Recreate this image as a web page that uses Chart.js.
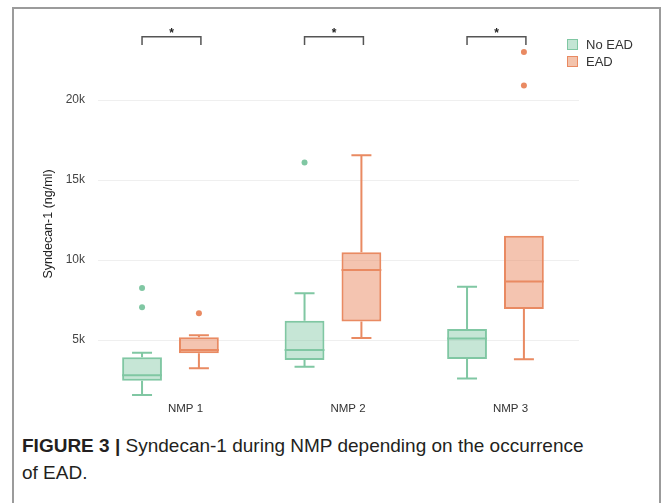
<!DOCTYPE html>
<html>
<head>
<meta charset="utf-8">
<script src="https://cdn.jsdelivr.net/npm/chart.js@4"></script>
<style>
  html, body { margin: 0; padding: 0; background: #fff; }
  body { width: 663px; height: 503px; position: relative; overflow: hidden; font-family: "Liberation Sans", Arial, sans-serif; }
  #frame { position: absolute; left: 12px; top: 7px; width: 649px; height: 510px; border: 2px solid #9b9b9b; box-sizing: border-box; }
  #wrap { position: absolute; left: 0; top: 0; width: 663px; height: 430px; }
  .legend { position: absolute; left: 567px; font-size: 13px; color: #333; }
  .legend span { display: inline-block; width: 9px; height: 9px; border: 1.5px solid; vertical-align: -1px; margin-right: 8px; }
  #caption { position: absolute; left: 22px; top: 432px; width: 575px; font-size: 19px; line-height: 27px; color: #231f20; }
</style>
</head>
<body>
<div id="frame"></div>
<div id="wrap"><canvas id="chart" width="663" height="430"></canvas></div>
<div class="legend" style="top: 37px;"><span style="border-color:#80c7a3; background:#c3e5d4;"></span>No EAD</div>
<div class="legend" style="top: 54px;"><span style="border-color:#e98a62; background:#f3c3ac;"></span>EAD</div>
<div id="caption"><b>FIGURE 3 |</b> Syndecan-1 during NMP depending on the occurrence of EAD.</div>
<script>
(() => {
    const categories = ['NMP 1', 'NMP 2', 'NMP 3'];
    // [min whisker, q1, median, q3, max whisker]
    const noEadStats = [
        [1560, 2460, 2790, 3920, 4200],
        [3330, 3750, 4375, 6210, 7920],
        [2600, 3810, 5100, 5690, 8330]
    ];
    const eadStats = [
        [3230, 4170, 4375, 5170, 5290],
        [5125, 6150, 9375, 10480, 16540],
        [3790, 6940, 8650, 11520, 11520]
    ];
    const noEadOutliers = [[7040, 8250], [16100], []];
    const eadOutliers = [[6670], [], [20900, 23000]];
    const significance = ['*', '*', '*'];
    const yTicks = [5000, 10000, 15000, 20000];

    const green = '#80c7a3', greenFill = 'rgba(128,199,163,0.45)';
    const orange = '#e98a62', orangeFill = 'rgba(233,138,98,0.5)';

    const groups = [
        { label: 'No EAD', stats: noEadStats, outliers: noEadOutliers, color: green, fill: greenFill },
        { label: 'EAD', stats: eadStats, outliers: eadOutliers, color: orange, fill: orangeFill }
    ];

    // whiskers, medians, outliers and brackets drawn from the same scales as the boxes
    const boxExtras = {
        id: 'boxExtras',
        afterDatasetsDraw(chart) {
            const ctx = chart.ctx;
            const y = chart.scales.y;
            ctx.save();
            groups.forEach((g, di) => {
                const meta = chart.getDatasetMeta(di);
                meta.data.forEach((bar, i) => {
                    const [lo, q1, med, q3, hi] = g.stats[i];
                    const x = bar.x, half = bar.width / 2, cap = 10;
                    ctx.strokeStyle = g.color;
                    ctx.lineWidth = 2;
                    ctx.beginPath();
                    ctx.moveTo(x - half, y.getPixelForValue(med));
                    ctx.lineTo(x + half, y.getPixelForValue(med));
                    if (hi > q3) {
                        ctx.moveTo(x, y.getPixelForValue(q3));
                        ctx.lineTo(x, y.getPixelForValue(hi));
                        ctx.moveTo(x - cap, y.getPixelForValue(hi));
                        ctx.lineTo(x + cap, y.getPixelForValue(hi));
                    }
                    if (lo < q1) {
                        ctx.moveTo(x, y.getPixelForValue(q1));
                        ctx.lineTo(x, y.getPixelForValue(lo));
                        ctx.moveTo(x - cap, y.getPixelForValue(lo));
                        ctx.lineTo(x + cap, y.getPixelForValue(lo));
                    }
                    ctx.stroke();
                    ctx.fillStyle = g.color;
                    g.outliers[i].forEach(v => {
                        ctx.beginPath();
                        ctx.arc(x, y.getPixelForValue(v), 3, 0, Math.PI * 2);
                        ctx.fill();
                    });
                });
            });
            // significance brackets
            const m0 = chart.getDatasetMeta(0), m1 = chart.getDatasetMeta(1);
            const top = y.getPixelForValue(23960), foot = y.getPixelForValue(23440);
            ctx.strokeStyle = '#555';
            ctx.lineWidth = 1.5;
            ctx.fillStyle = '#222';
            ctx.font = 'bold 12px "Liberation Sans"';
            ctx.textAlign = 'center';
            ctx.textBaseline = 'middle';
            significance.forEach((s, i) => {
                const x1 = m0.data[i].x, x2 = m1.data[i].x + 2;
                ctx.beginPath();
                ctx.moveTo(x1, foot);
                ctx.lineTo(x1, top);
                ctx.lineTo(x2, top);
                ctx.lineTo(x2, foot);
                ctx.stroke();
                ctx.fillText(s, (x1 + x2) / 2, top - 3);
            });
            ctx.restore();
        }
    };

    new Chart(document.getElementById('chart').getContext('2d'), {
        type: 'bar',
        data: {
            datasets: groups.map(g => ({
                label: g.label,
                data: g.stats.map((s, i) => ({ x: i + 1, y: [s[1], s[3]] })),
                backgroundColor: g.fill,
                borderColor: g.color,
                borderWidth: 2,
                borderSkipped: false,
                categoryPercentage: 0.7,
                barPercentage: 0.7
            }))
        },
        options: {
            responsive: false,
            animation: false,
            layout: { padding: { top: 48, right: 84, bottom: 0, left: 0 } },
            scales: {
                x: {
                    type: 'linear',
                    offset: false,
                    min: 0.554,
                    max: 3.514,
                    afterBuildTicks: (scale) => { scale.ticks = categories.map((c, i) => ({ value: i + 1 })); },
                    afterFit: (scale) => { scale.height = 30; },
                    grid: { display: false, drawTicks: false, offset: false },
                    border: { display: false },
                    ticks: {
                        callback: (v) => categories[v - 1],
                        labelOffset: 15,
                        padding: 2,
                        color: '#333',
                        font: { family: 'Liberation Sans', size: 11.5 }
                    }
                },
                y: {
                    min: 1250,
                    max: 23250,
                    afterBuildTicks: (scale) => { scale.ticks = yTicks.map(v => ({ value: v })); },
                    afterFit: (scale) => { scale.width = 98; },
                    grid: { color: '#efefef', lineWidth: 1, drawTicks: false },
                    border: { display: false },
                    ticks: {
                        callback: (v) => (v / 1000) + 'k',
                        padding: 13,
                        color: '#444',
                        font: { family: 'Liberation Sans', size: 12 }
                    },
                    title: {
                        display: true,
                        text: 'Syndecan-1 (ng/ml)',
                        color: '#222',
                        padding: { top: 41, bottom: 0 },
                        font: { family: 'Liberation Sans', size: 12.5 }
                    }
                }
            },
            plugins: {
                legend: { display: false },
                tooltip: { enabled: false }
            }
        },
        plugins: [boxExtras]
    });
})();
</script>
</body>
</html>
